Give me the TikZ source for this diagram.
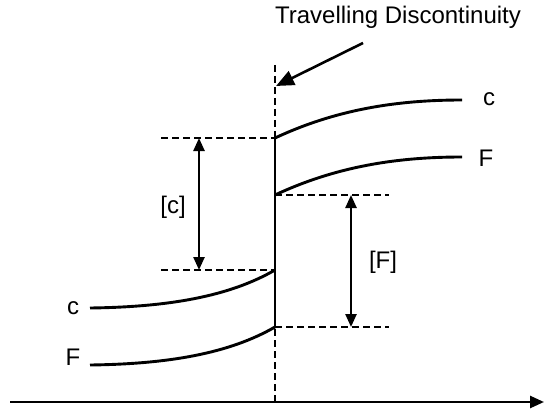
\documentclass[tikz,border=0pt]{standalone}
\usepackage{fontspec}
\setmainfont{Liberation Sans}
\usetikzlibrary{arrows.meta}

\begin{document}
\begin{tikzpicture}[x=0.5pt, y=-0.5pt,
    curve/.style={line width=1.45pt},
    guide/.style={line width=0.55pt, dash pattern=on 3.5pt off 2pt},
    dimarrow/.style={line width=1.2pt, {Triangle[length=6.5pt,width=5.5pt]}-{Triangle[length=6.5pt,width=5.5pt]}},
    lbl/.style={font=\fontsize{12}{14}\selectfont, inner sep=0pt}]
    \useasboundingbox (0,0) rectangle (544,411);

    % Points where the profiles meet the discontinuity
    \coordinate (ctop) at (275,138);
    \coordinate (ftop) at (275,195);
    \coordinate (cbot) at (275,270);
    \coordinate (fbot) at (275,327);

    % Horizontal axis with arrow
    \coordinate (axstart) at (10,402);
    \coordinate (axend) at (544,402);
    \draw[line width=1.3pt, -{Triangle[length=7pt,width=6pt]}] (axstart) -- (axend);

    % Dashed line marking the discontinuity
    \coordinate (dtop) at (275,65);
    \coordinate (dbot) at (275,402);
    \draw[guide] (dtop) -- (dbot);

    % The jump itself
    \draw[curve] (ctop) -- (fbot);

    % Profiles ahead of the discontinuity
    \draw[curve] (ctop) .. controls (335,110) and (395,100) .. (462,100);
    \draw[curve] (ftop) .. controls (335,167) and (395,157) .. (462,157);
    \node[lbl] (cright) at (489,99) {c};
    \node[lbl] (fright) at (486,158) {F};

    % Profiles behind the discontinuity
    \draw[curve] (90,308) .. controls (170,307) and (230,296) .. (cbot);
    \draw[curve] (90,365) .. controls (170,364) and (230,353) .. (fbot);
    \node[lbl] (cleft) at (73,308) {c};
    \node[lbl] (fleft) at (73,357) {F};

    % Jump in c
    \draw[guide] (161,138) -- (ctop);
    \draw[guide] (161,270) -- (cbot);
    \coordinate (cjumpa) at (199,138);
    \coordinate (cjumpb) at (199,270);
    \draw[dimarrow] (cjumpa) -- (cjumpb);
    \node[lbl] (cjump) at (173,207) {[c]};

    % Jump in F
    \draw[guide] (ftop) -- (389,195);
    \draw[guide] (fbot) -- (389,327);
    \coordinate (fjumpa) at (351,195);
    \coordinate (fjumpb) at (351,327);
    \draw[dimarrow] (fjumpa) -- (fjumpb);
    \node[lbl] (fjump) at (383,262) {[F]};

    % Title and pointer
    \node[lbl] (title) at (398,17) {Travelling Discontinuity};
    \coordinate (ptail) at (363,43);
    \coordinate (phead) at (276,86);
    \draw[line width=1.3pt, -{Triangle[length=9pt,width=7.5pt]}] (ptail) -- (phead);
\end{tikzpicture}
\end{document}
